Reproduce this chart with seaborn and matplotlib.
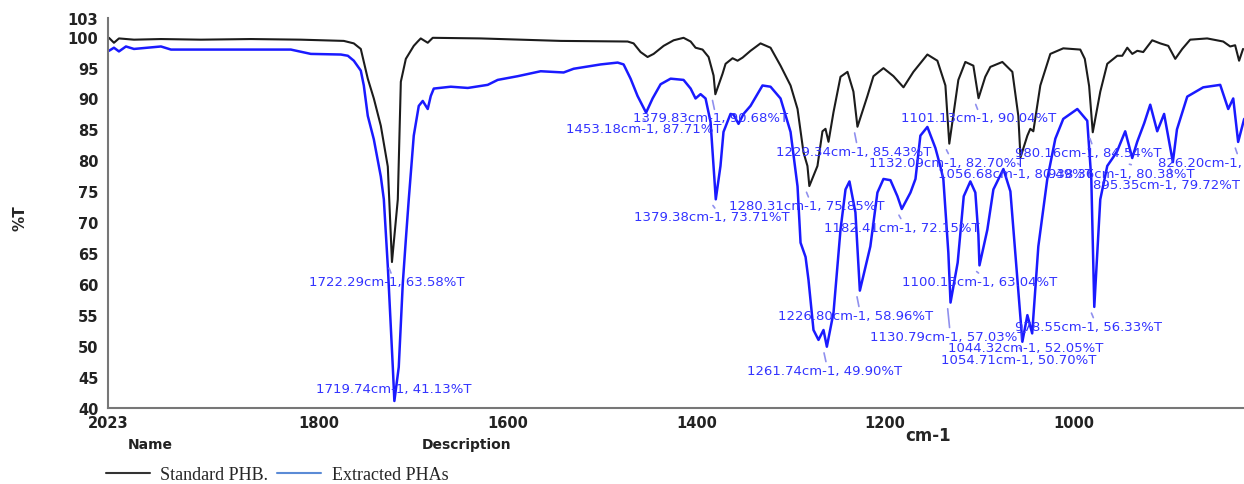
import numpy as np
import pandas as pd
import matplotlib
matplotlib.use("Agg")
import matplotlib.pyplot as plt
import seaborn as sns
from matplotlib.lines import Line2D

# FTIR spectra (wavenumber cm-1, %T)
std_wn = [2022, 2016.7, 2011.4, 1995.5, 1966.9, 1924.6, 1871.7, 1818.8, 1773.3, 1762.7,
          1755.3, 1747.9, 1741.5, 1734.1, 1726.7, 1722.29, 1716.1, 1712.9, 1707.6, 1699.2,
          1695.0, 1691.8, 1684.4, 1679.1, 1628.3, 1543.6, 1472.7, 1466.4, 1459.0, 1451.6,
          1445.2, 1434.6, 1424.0, 1413.5, 1406.0, 1400.8, 1393.4, 1387.0, 1381.7, 1379.83,
          1372.2, 1369.0, 1361.6, 1356.3, 1351.0, 1342.6, 1332.0, 1321.4, 1310.8, 1300.2,
          1292.8, 1286.5, 1282.3, 1280.31, 1271.7, 1266.4, 1263.2, 1260.0, 1254.7, 1247.3,
          1239.9, 1233.6, 1229.34, 1218.8, 1212.4, 1201.8, 1191.2, 1180.6, 1170.1, 1155.3,
          1144.7, 1136.2, 1132.09, 1122.5, 1115.1, 1106.6, 1101.13, 1094.0, 1088.6, 1075.9,
          1065.3, 1059.0, 1056.68, 1049.4, 1046.3, 1043.1, 1035.7, 1025.1, 1011.4, 993.4,
          988.6, 984.0, 980.16, 972.2, 964.8, 954.2, 948.9, 943.6, 938.3, 933.0,
          926.7, 917.2, 908.7, 900.2, 892.8, 885.4, 877.0, 859.0, 842.0, 834.6,
          829.4, 825.2, 821.0]
std_t = [99.8, 99.0, 99.7, 99.5, 99.6, 99.5, 99.6, 99.5, 99.3, 98.9,
         98.0, 93.2, 90.0, 85.6, 79.0, 63.58, 73.7, 92.7, 96.4, 98.5,
         99.2, 99.7, 99.0, 99.8, 99.7, 99.3, 99.2, 98.9, 97.5, 96.7,
         97.2, 98.5, 99.4, 99.8, 99.2, 98.2, 97.9, 96.7, 93.7, 90.68,
         94.0, 95.6, 96.5, 96.1, 96.6, 97.7, 98.9, 98.2, 95.3, 92.1,
         88.3, 81.3, 79.1, 75.85, 79.1, 84.7, 85.1, 83.0, 87.8, 93.5,
         94.3, 91.1, 85.43, 90.4, 93.6, 94.9, 93.6, 91.8, 94.3, 97.1,
         96.1, 92.1, 82.70, 93.0, 95.9, 95.3, 90.04, 93.5, 95.1, 95.9,
         94.3, 87.2, 80.49, 84.0, 85.1, 84.7, 92.1, 97.2, 98.1, 97.9,
         96.4, 92.0, 84.54, 91.1, 95.6, 96.9, 96.9, 98.2, 97.2, 97.7,
         97.5, 99.4, 98.9, 98.5, 96.4, 98.0, 99.5, 99.7, 99.2, 98.4,
         98.6, 96.1, 98.0]

ext_wn = [2022, 2016.7, 2011.4, 2004.0, 1995.5, 1966.9, 1956.3, 1924.6, 1871.7, 1829.4,
          1808.2, 1776.4, 1769.0, 1762.7, 1755.3, 1752.1, 1747.9, 1741.5, 1734.1, 1730.9,
          1726.7, 1721.4, 1719.74, 1715.1, 1710.8, 1707.6, 1704.5, 1699.2, 1693.9, 1689.7,
          1684.4, 1681.2, 1678.0, 1660.0, 1642.0, 1620.9, 1610.3, 1589.1, 1564.8, 1540.5,
          1529.9, 1501.3, 1483.3, 1477.0, 1469.6, 1462.2, 1453.18, 1446.3, 1437.8, 1427.2,
          1413.5, 1406.0, 1400.8, 1395.5, 1390.2, 1384.9, 1381.7, 1379.38, 1374.4, 1371.2,
          1363.8, 1360.6, 1355.3, 1350.0, 1342.6, 1329.9, 1321.4, 1310.8, 1300.2, 1292.8,
          1289.6, 1284.3, 1281.2, 1275.9, 1270.6, 1265.3, 1261.74, 1254.7, 1247.3, 1242.0,
          1237.8, 1231.5, 1226.80, 1215.7, 1208.2, 1201.8, 1194.4, 1187.0, 1182.41, 1173.2,
          1167.9, 1162.7, 1155.3, 1146.8, 1141.5, 1138.4, 1133.1, 1130.79, 1123.2, 1116.8,
          1109.8, 1104.5, 1101.3, 1100.13, 1091.8, 1085.4, 1074.8, 1067.4, 1060.0, 1054.71,
          1049.4, 1044.32, 1037.8, 1028.3, 1019.8, 1011.4, 996.5, 986.0, 981.7, 978.55,
          972.2, 964.8, 958.5, 954.3, 945.8, 938.36, 933.1, 925.7, 919.3, 911.9,
          904.6, 895.35, 891.0, 880.1, 863.2, 845.2, 836.7, 831.4, 826.20, 819.8]
ext_t = [97.7, 98.2, 97.6, 98.4, 98.0, 98.4, 97.9, 97.9, 97.9, 97.9,
         97.2, 97.1, 96.9, 96.1, 94.5, 92.1, 87.2, 83.4, 77.4, 73.7,
         62.9, 46.6, 41.13, 46.6, 60.2, 67.2, 73.7, 84.0, 88.8, 89.6,
         88.3, 90.4, 91.6, 91.9, 91.7, 92.2, 93.0, 93.6, 94.4, 94.2,
         94.8, 95.5, 95.8, 95.5, 93.2, 90.4, 87.71, 90.0, 92.3, 93.2,
         93.0, 91.6, 90.0, 90.7, 90.0, 86.2, 79.1, 73.71, 79.1, 84.6,
         87.5, 87.4, 85.9, 87.5, 88.8, 92.1, 91.9, 90.0, 84.6, 75.8,
         66.7, 64.4, 60.7, 52.6, 51.0, 52.6, 49.90, 55.4, 68.8, 75.3,
         76.6, 71.6, 58.96, 66.1, 74.8, 77.0, 76.8, 74.2, 72.15, 74.8,
         77.0, 84.0, 85.4, 82.0, 79.0, 77.0, 65.1, 57.03, 63.5, 74.2,
         76.6, 74.8, 68.0, 63.04, 68.8, 75.3, 78.6, 75.0, 60.7, 50.70,
         55.0, 52.05, 66.1, 77.0, 83.5, 86.7, 88.3, 86.4, 77.0, 56.33,
         73.7, 79.1, 80.5, 81.5, 84.7, 80.38, 83.0, 86.0, 89.0, 84.7,
         87.5, 79.72, 85.0, 90.3, 91.8, 92.2, 88.3, 90.0, 82.98, 86.7]

# peak picks (wavenumber, %T)
peak_wn = [1722.29, 1719.74, 1379.83, 1453.18, 1229.34, 1379.38, 1280.31, 1182.41, 1226.80, 1261.74,
           1100.13, 1130.79, 1044.32, 1054.71, 978.55, 1101.13, 1132.09, 1056.68, 980.16, 938.36,
           895.35, 826.20]
peak_t = [63.58, 41.13, 90.68, 87.71, 85.43, 73.71, 75.85, 72.15, 58.96, 49.90,
          63.04, 57.03, 52.05, 50.70, 56.33, 90.04, 82.70, 80.49, 84.54, 80.38,
          79.72, 82.98]
# where each pick label sits (left edge wavenumber, %T)
label_pos = [(1810.3, 60.4), (1803.0, 43.2), (1467.4, 86.85), (1538.3, 85.1), (1316.1, 81.5),
             (1466.4, 70.9), (1365.9, 72.7), (1265.3, 69.2), (1314.0, 55.0), (1345.8, 46.1),
             (1181.7, 60.4), (1215.6, 51.6), (1133.1, 49.7), (1140.5, 47.9), (1062.2, 53.2),
             (1182.8, 86.85), (1216.7, 79.7), (1143.6, 77.9), (1062.2, 81.3), (1027.2, 77.9),
             (979.6, 76.1), (910.8, 79.7)]

x_ticks = [2023, 1800, 1600, 1400, 1200, 1000]
y_ticks = [40, 45, 50, 55, 60, 65, 70, 75, 80, 85, 90, 95, 100, 103]

sns.set_style("white")
plt.rcParams['font.family'] = ['DejaVu Sans']

std = pd.DataFrame({'wn': std_wn, 'T': std_t})
ext = pd.DataFrame({'wn': ext_wn, 'T': ext_t})

fig = plt.figure(figsize=(12.44, 4.85), dpi=100)
ax = fig.add_axes([108 / 1244, 1 - 409 / 485, 1136 / 1244, 390 / 485])

sns.lineplot(data=std, x='wn', y='T', sort=False, estimator=None, color='#1c1c1c', lw=1.5, ax=ax)
sns.lineplot(data=ext, x='wn', y='T', sort=False, estimator=None, color='#1a1aff', lw=1.8, ax=ax)

# peak pick labels with short leader lines
for wn, t, (lx, ly) in zip(peak_wn, peak_t, label_pos):
    txt = f"{wn:.2f}cm-1, {t:.2f}%T"
    ax.text(lx, ly, txt, color='#3333ff', fontsize=9.5, ha='left', va='center')
    if ly + 1.4 < t - 1.0:
        ax.plot([wn + 3, wn + 1], [t - 1.0, ly + 1.4], color='#9090ee', lw=1.2)

ax.set_xlim(2023, 820)
ax.set_ylim(40, 103)
ax.set_xticks(x_ticks)
ax.set_yticks(y_ticks)
ax.set_xlabel('')
ax.set_ylabel('')
ax.tick_params(axis='y', length=6, width=1, color='#666666', pad=1, labelsize=10.5, labelcolor='#222222')
ax.tick_params(axis='x', length=3, width=1, color='#666666', pad=2, labelsize=10.5, labelcolor='#222222')
for lab in ax.get_xticklabels() + ax.get_yticklabels():
    lab.set_fontweight('bold')

for s in ['top', 'right']:
    ax.spines[s].set_visible(False)
for s in ['left', 'bottom']:
    ax.spines[s].set_color('#777777')
    ax.spines[s].set_linewidth(1.5)

fig.text(20 / 1244, 1 - 218 / 485, '%T', fontsize=11, fontweight='bold', rotation=90,
         ha='center', va='center')
fig.text(928 / 1244, 1 - 436 / 485, 'cm-1', fontsize=12, fontweight='bold', ha='center', va='center')
fig.text(150 / 1244, 1 - 445 / 485, 'Name', fontsize=10, fontweight='bold', ha='center', va='center', color='#222222')
fig.text(467 / 1244, 1 - 445 / 485, 'Description', fontsize=10, fontweight='bold', ha='center', va='center', color='#222222')

handles = [Line2D([], [], color='#333333', lw=1.5), Line2D([], [], color='#5b8bd6', lw=1.5)]
fig.legend(handles, ['Standard PHB.', 'Extracted PHAs'], loc='center left',
           bbox_to_anchor=(90 / 1244, 1 - 476 / 485), ncol=2, frameon=False,
           handlelength=2.4, handletextpad=0.6, columnspacing=0.5,
           prop={'family': 'Liberation Serif', 'size': 13})

fig.savefig('out.png', dpi=100)
